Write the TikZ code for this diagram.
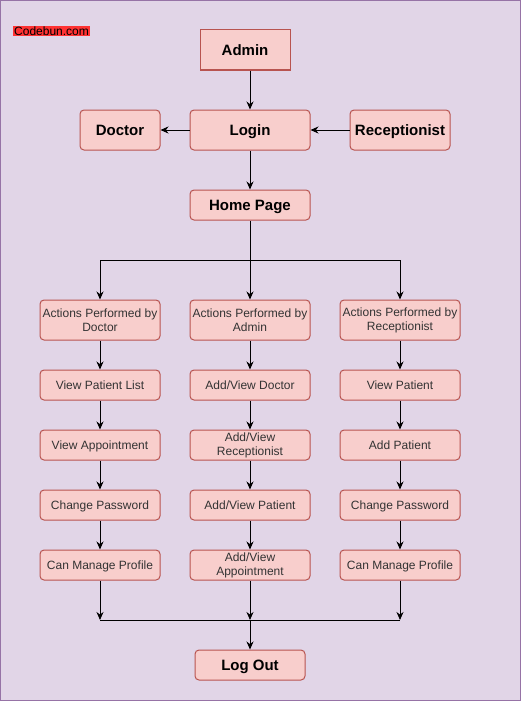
\documentclass[tikz,border=0pt]{standalone}
\usepackage{fontspec}
\setmainfont{Liberation Sans}
\usetikzlibrary{arrows.meta}
\definecolor{bg}{HTML}{E1D5E7}
\definecolor{bgline}{HTML}{9673A6}
\definecolor{boxfill}{HTML}{F8CECC}
\definecolor{boxline}{HTML}{B85450}
\definecolor{tagred}{HTML}{FF3333}
\begin{document}
\begin{tikzpicture}[x=1pt,y=-1pt,
  box/.style={draw=boxline, fill=boxfill, line width=1pt, rounded corners=4pt,
    minimum width=120pt, minimum height=30pt, inner sep=1pt, align=center,
    font=\fontsize{12}{14}\selectfont, text=black!80, text height=8.6pt, text depth=0pt},
  two/.style={text height=, text depth=},
  big/.style={box, font=\bfseries\fontsize{15}{17}\selectfont, text=black,
    text height=10.8pt, text depth=0pt},
  tall/.style={minimum height=40pt},
  arr/.style={-{Stealth[length=8pt,width=7pt]}, line width=1pt},
  plain/.style={line width=1pt}
]
\useasboundingbox (0,0) rectangle (521,701);
\fill[bg] (0,0) rectangle (521,701);
\draw[bgline, line width=1pt] (0.5,0.5) rectangle (520.5,700.5);

\node[fill=tagred, inner sep=1pt, anchor=west, font=\fontsize{12}{14}\selectfont] (tag) at (13,31) {Codebun.com};

\node[big, tall, sharp corners, minimum width=90pt] (admin) at (245,50) {Admin};
\node[big, tall] (login) at (250,130) {Login};
\node[big, tall, minimum width=80pt] (doctor) at (120,130) {Doctor};
\node[big, tall, minimum width=100pt] (recep) at (400,130) {Receptionist};
\node[big] (home) at (250,205) {Home Page};

\node[box, tall, two] (d1) at (100,320) {Actions Performed by\\Doctor};
\node[box, tall, two] (a1) at (250,320) {Actions Performed by\\Admin};
\node[box, tall, two] (r1) at (400,320) {Actions Performed by\\Receptionist};

\node[box] (d2) at (100,385) {View Patient List};
\node[box] (d3) at (100,445) {View Appointment};
\node[box] (d4) at (100,505) {Change Password};
\node[box] (d5) at (100,565) {Can Manage Profile};

\node[box] (a2) at (250,385) {Add/View Doctor};
\node[box, two] (a3) at (250,445) {Add/View\\Receptionist};
\node[box] (a4) at (250,505) {Add/View Patient};
\node[box, two] (a5) at (250,565) {Add/View\\Appointment};

\node[box] (r2) at (400,385) {View Patient};
\node[box] (r3) at (400,445) {Add Patient};
\node[box] (r4) at (400,505) {Change Password};
\node[box] (r5) at (400,565) {Can Manage Profile};

\node[big, minimum width=110pt] (logout) at (250,665) {Log Out};

\draw[arr] (admin.south -| login.north) -- (login.north);
\draw[arr] (login) -- (doctor);
\draw[arr] (recep) -- (login);
\draw[arr] (login) -- (home);

\coordinate (j1) at (250,260);
\draw[plain] (home) -- (j1);
\draw[arr] (j1) -| (d1);
\draw[arr] (j1) -- (a1);
\draw[arr] (j1) -| (r1);

\foreach \c in {d,a,r}{
  \draw[arr] (\c1) -- (\c2);
  \draw[arr] (\c2) -- (\c3);
  \draw[arr] (\c3) -- (\c4);
  \draw[arr] (\c4) -- (\c5);
}

\coordinate (j2) at (250,620);
\draw[arr] (d5) -- (d5 |- j2);
\draw[arr] (a5) -- (j2);
\draw[arr] (r5) -- (r5 |- j2);
\draw[plain] (d5 |- j2) -- (r5 |- j2);
\draw[arr] (j2) -- (logout);
\end{tikzpicture}
\end{document}
